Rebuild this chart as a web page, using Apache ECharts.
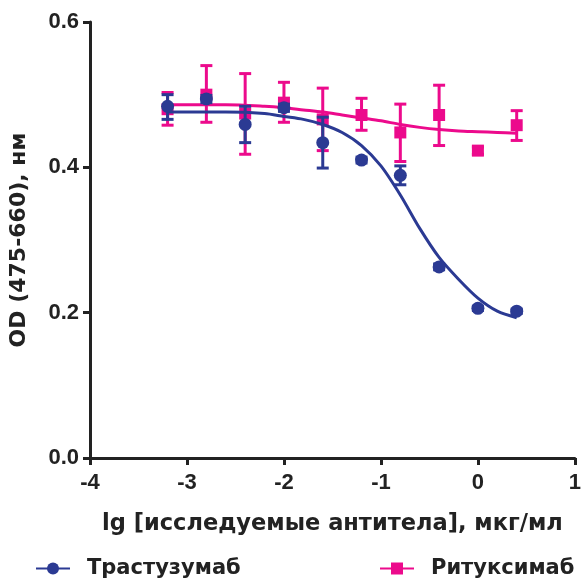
<!DOCTYPE html>
<html>
<head>
<meta charset="utf-8">
<script src="https://cdn.jsdelivr.net/npm/echarts@6/dist/echarts.min.js"></script>
<style>
  html, body { margin: 0; padding: 0; background: #fff; }
  #chart { width: 584px; height: 584px; }
</style>
</head>
<body>
<div id="chart"></div>
<script>
// точки измерений (lg концентрации)
const doseX = [-3.2, -2.8, -2.4, -2.0, -1.6, -1.2, -0.8, -0.4, 0, 0.4]
const trastMean = [0.484, 0.494, 0.459, 0.482, 0.434, 0.410, 0.389, 0.263, 0.206, 0.202]
const trastLow = [0.466, 0.489, 0.434, 0.477, 0.399, 0.406, 0.376, 0.259, 0.203, 0.199]
const trastHigh = [0.500, 0.499, 0.484, 0.487, 0.469, 0.414, 0.402, 0.267, 0.209, 0.205]
const ritMean = [0.480, 0.500, 0.474, 0.489, 0.466, 0.472, 0.448, 0.472, 0.423, 0.458]
const ritLow = [0.458, 0.462, 0.418, 0.462, 0.423, 0.451, 0.408, 0.430, 0.418, 0.437]
const ritHigh = [0.503, 0.540, 0.529, 0.517, 0.509, 0.495, 0.487, 0.513, 0.428, 0.478]

// аппроксимирующие кривые
const curveX = [-3.2, -2.6, -2.2, -2.0, -1.8, -1.6, -1.4, -1.2, -1.0, -0.8, -0.6, -0.4, -0.2, 0, 0.2, 0.4]
const trastCurve = [0.476, 0.476, 0.474, 0.470, 0.466, 0.459, 0.448, 0.430, 0.402, 0.362, 0.316, 0.276, 0.246, 0.220, 0.202, 0.193]
const ritCurve = [0.486, 0.486, 0.484, 0.482, 0.479, 0.476, 0.472, 0.468, 0.464, 0.459, 0.455, 0.452, 0.450, 0.449, 0.448, 0.447]

const xTicks = [-4, -3, -2, -1, 0, 1]
const yTicks = ['0.0', '0.2', '0.4', '0.6']

const BLUE = '#2B3A93'
const PINK = '#EC0A8C'
const labelFont = 'Liberation Sans, Arial, sans-serif'
const nameFont = 'DejaVu Sans, sans-serif'

function pairs(xs, ys) {
  return xs.map((x, i) => [x, ys[i]])
}

function errData(xs, lo, hi) {
  return xs.map((x, i) => [x, lo[i], hi[i]])
}

// усы погрешностей
function errorBar(color) {
  return function (params, api) {
    const x = api.value(0)
    const a = api.coord([x, api.value(1)])
    const b = api.coord([x, api.value(2)])
    const w = 6
    const style = { stroke: color, lineWidth: 3 }
    return {
      type: 'group',
      children: [
        { type: 'line', shape: { x1: a[0], y1: a[1], x2: b[0], y2: b[1] }, style: style },
        { type: 'line', shape: { x1: a[0] - w, y1: a[1], x2: a[0] + w, y2: a[1] }, style: style },
        { type: 'line', shape: { x1: b[0] - w, y1: b[1], x2: b[0] + w, y2: b[1] }, style: style }
      ]
    }
  }
}

const legendText = {
  fontFamily: nameFont,
  fontWeight: 'bold',
  fontSize: 21,
  color: '#222',
  padding: [0, 0, 0, 12]
}

const chart = echarts.init(document.getElementById('chart'))
chart.setOption({
  animation: false,
  grid: { left: 89, right: 9, top: 22, bottom: 126, containLabel: false },
  legend: [
    {
      data: ['Трастузумаб'],
      left: 30, top: 553,
      itemWidth: 34, itemHeight: 15,
      textStyle: legendText
    },
    {
      data: ['Ритуксимаб'],
      left: 374, top: 553,
      itemWidth: 34, itemHeight: 15,
      textStyle: legendText
    }
  ],
  xAxis: {
    type: 'value',
    min: -4, max: 1, interval: 1,
    name: 'lg [исследуемые антитела], мкг/мл',
    nameLocation: 'middle',
    nameGap: 55,
    nameTextStyle: { fontFamily: nameFont, fontWeight: 'bold', fontSize: 22.5, color: '#222' },
    axisLine: { onZero: false, lineStyle: { color: '#222', width: 3 } },
    axisTick: { length: 7, lineStyle: { color: '#222', width: 3 } },
    axisLabel: {
      fontFamily: labelFont, fontWeight: 'bold', fontSize: 22, color: '#222', margin: 14,
      formatter: v => xTicks.indexOf(v) >= 0 ? String(v) : ''
    },
    splitLine: { show: false }
  },
  yAxis: {
    type: 'value',
    min: 0, max: 0.6, interval: 0.2,
    name: 'OD (475-660), нм',
    nameLocation: 'middle',
    nameGap: 60,
    nameTextStyle: { fontFamily: nameFont, fontWeight: 'bold', fontSize: 22, color: '#222' },
    axisLine: { show: true, onZero: false, lineStyle: { color: '#222', width: 3 } },
    axisTick: { show: true, length: 7, lineStyle: { color: '#222', width: 3 } },
    axisLabel: {
      fontFamily: labelFont, fontWeight: 'bold', fontSize: 22, color: '#222', margin: 11,
      formatter: v => yTicks[Math.round(v / 0.2)]
    },
    splitLine: { show: false }
  },
  series: [
    {
      name: 'Ритуксимаб',
      type: 'line',
      data: pairs(curveX, ritCurve),
      smooth: 0.3,
      symbol: 'rect',
      symbolSize: 12,
      showSymbol: false,
      itemStyle: { color: PINK },
      lineStyle: { color: PINK, width: 3 },
      z: 2
    },
    {
      type: 'custom',
      data: errData(doseX, ritLow, ritHigh),
      renderItem: errorBar(PINK),
      z: 3
    },
    {
      name: 'Ритуксимаб',
      type: 'scatter',
      data: pairs(doseX, ritMean),
      symbol: 'rect',
      symbolSize: 12,
      itemStyle: { color: PINK, opacity: 1 },
      z: 4
    },
    {
      name: 'Трастузумаб',
      type: 'line',
      data: pairs(curveX, trastCurve),
      smooth: 0.3,
      symbol: 'circle',
      symbolSize: 12,
      showSymbol: false,
      itemStyle: { color: BLUE },
      lineStyle: { color: BLUE, width: 3 },
      z: 5
    },
    {
      type: 'custom',
      data: errData(doseX, trastLow, trastHigh),
      renderItem: errorBar(BLUE),
      z: 6
    },
    {
      name: 'Трастузумаб',
      type: 'scatter',
      data: pairs(doseX, trastMean),
      symbol: 'circle',
      symbolSize: 13,
      itemStyle: { color: BLUE, opacity: 1 },
      z: 7
    }
  ]
})
</script>
</body>
</html>
